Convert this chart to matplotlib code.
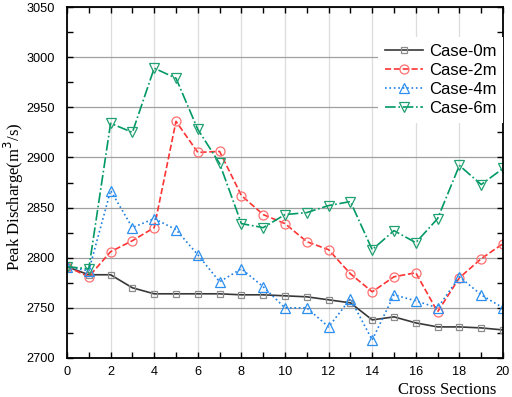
import numpy as np
import matplotlib
matplotlib.use("Agg")
import matplotlib.pyplot as plt
from matplotlib.ticker import MultipleLocator

sections = list(range(21))

case0 = [2791, 2783, 2783, 2770, 2764, 2764, 2764, 2764, 2763, 2763, 2762,
         2761, 2758, 2755, 2738, 2741, 2735, 2731, 2731, 2730, 2728]
case2 = [2791, 2781, 2806, 2817, 2830, 2936, 2905, 2906, 2862, 2843, 2834,
         2816, 2808, 2784, 2766, 2781, 2785, 2746, 2780, 2799, 2814]
case4 = [2791, 2787, 2867, 2830, 2839, 2828, 2803, 2776, 2789, 2771, 2750,
         2750, 2731, 2759, 2718, 2763, 2757, 2750, 2781, 2763, 2750]
case6 = [2791, 2789, 2934, 2925, 2989, 2979, 2928, 2894, 2834, 2830, 2843,
         2845, 2852, 2856, 2808, 2827, 2815, 2839, 2892, 2873, 2889]

labels = ['Case-0m', 'Case-2m', 'Case-4m', 'Case-6m']

fig = plt.figure(figsize=(5.12, 3.97), dpi=100)
ax = fig.add_axes([67/512, 1 - 358/397, 436/512, 351/397])

# line style, line colour, marker, marker colour, marker size
styles = [
    ('-', '#383838', 's', '#8c8c8c', 5),
    ('--', '#ff3333', 'o', '#ff7070', 6.5),
    (':', '#1f7fe0', '^', '#2a8ff0', 7),
    ('-.', '#009966', 'v', '#20a070', 7),
]

for vals, lab, st in zip([case0, case2, case4, case6], labels, styles):
    ls, lc, mk, mc, ms = st
    ax.plot(sections, vals, linestyle=ls, color=lc, linewidth=1.2,
            marker=mk, markersize=ms, markerfacecolor='none',
            markeredgecolor=mc, markeredgewidth=0.9, label=lab)

ax.set_xlim(0, 20)
ax.set_ylim(2700, 3050)
ax.xaxis.set_major_locator(MultipleLocator(2))
ax.xaxis.set_minor_locator(MultipleLocator(1))
ax.yaxis.set_major_locator(MultipleLocator(50))
ax.yaxis.set_minor_locator(MultipleLocator(25))

ax.grid(axis='x', which='major', color='#dddddd', linewidth=0.9)
ax.grid(axis='y', which='major', color='#a0a0a0', linewidth=0.9)
ax.set_axisbelow(True)

ax.tick_params(which='both', direction='in', top=True, right=True,
               labelsize=9.2, length=4, width=1)
ax.tick_params(axis='y', pad=9)
ax.tick_params(axis='x', pad=6)
for lbl in ax.get_xticklabels() + ax.get_yticklabels():
    lbl.set_family('Liberation Sans')
for sp in ax.spines.values():
    sp.set_linewidth(1.3)

ax.set_ylabel('Peak Discharge(m$^3$/s)', family='Liberation Serif', fontsize=12)
ax.yaxis.set_label_coords(-0.094, 0.46)
ax.set_xlabel('Cross Sections', family='Liberation Serif', fontsize=12)
ax.xaxis.set_label_coords(0.985, -0.068)
ax.xaxis.label.set_horizontalalignment('right')

leg = ax.legend(loc='upper right', bbox_to_anchor=(1.0, 0.915), frameon=True,
                fancybox=False, prop={'family': 'Liberation Sans', 'size': 12},
                borderaxespad=0, handlelength=2.3, labelspacing=0.25,
                handletextpad=0.35)
leg.get_frame().set_edgecolor('none')
leg.get_frame().set_facecolor('white')
leg.get_frame().set_alpha(1)

fig.savefig('out.png', dpi=100)
